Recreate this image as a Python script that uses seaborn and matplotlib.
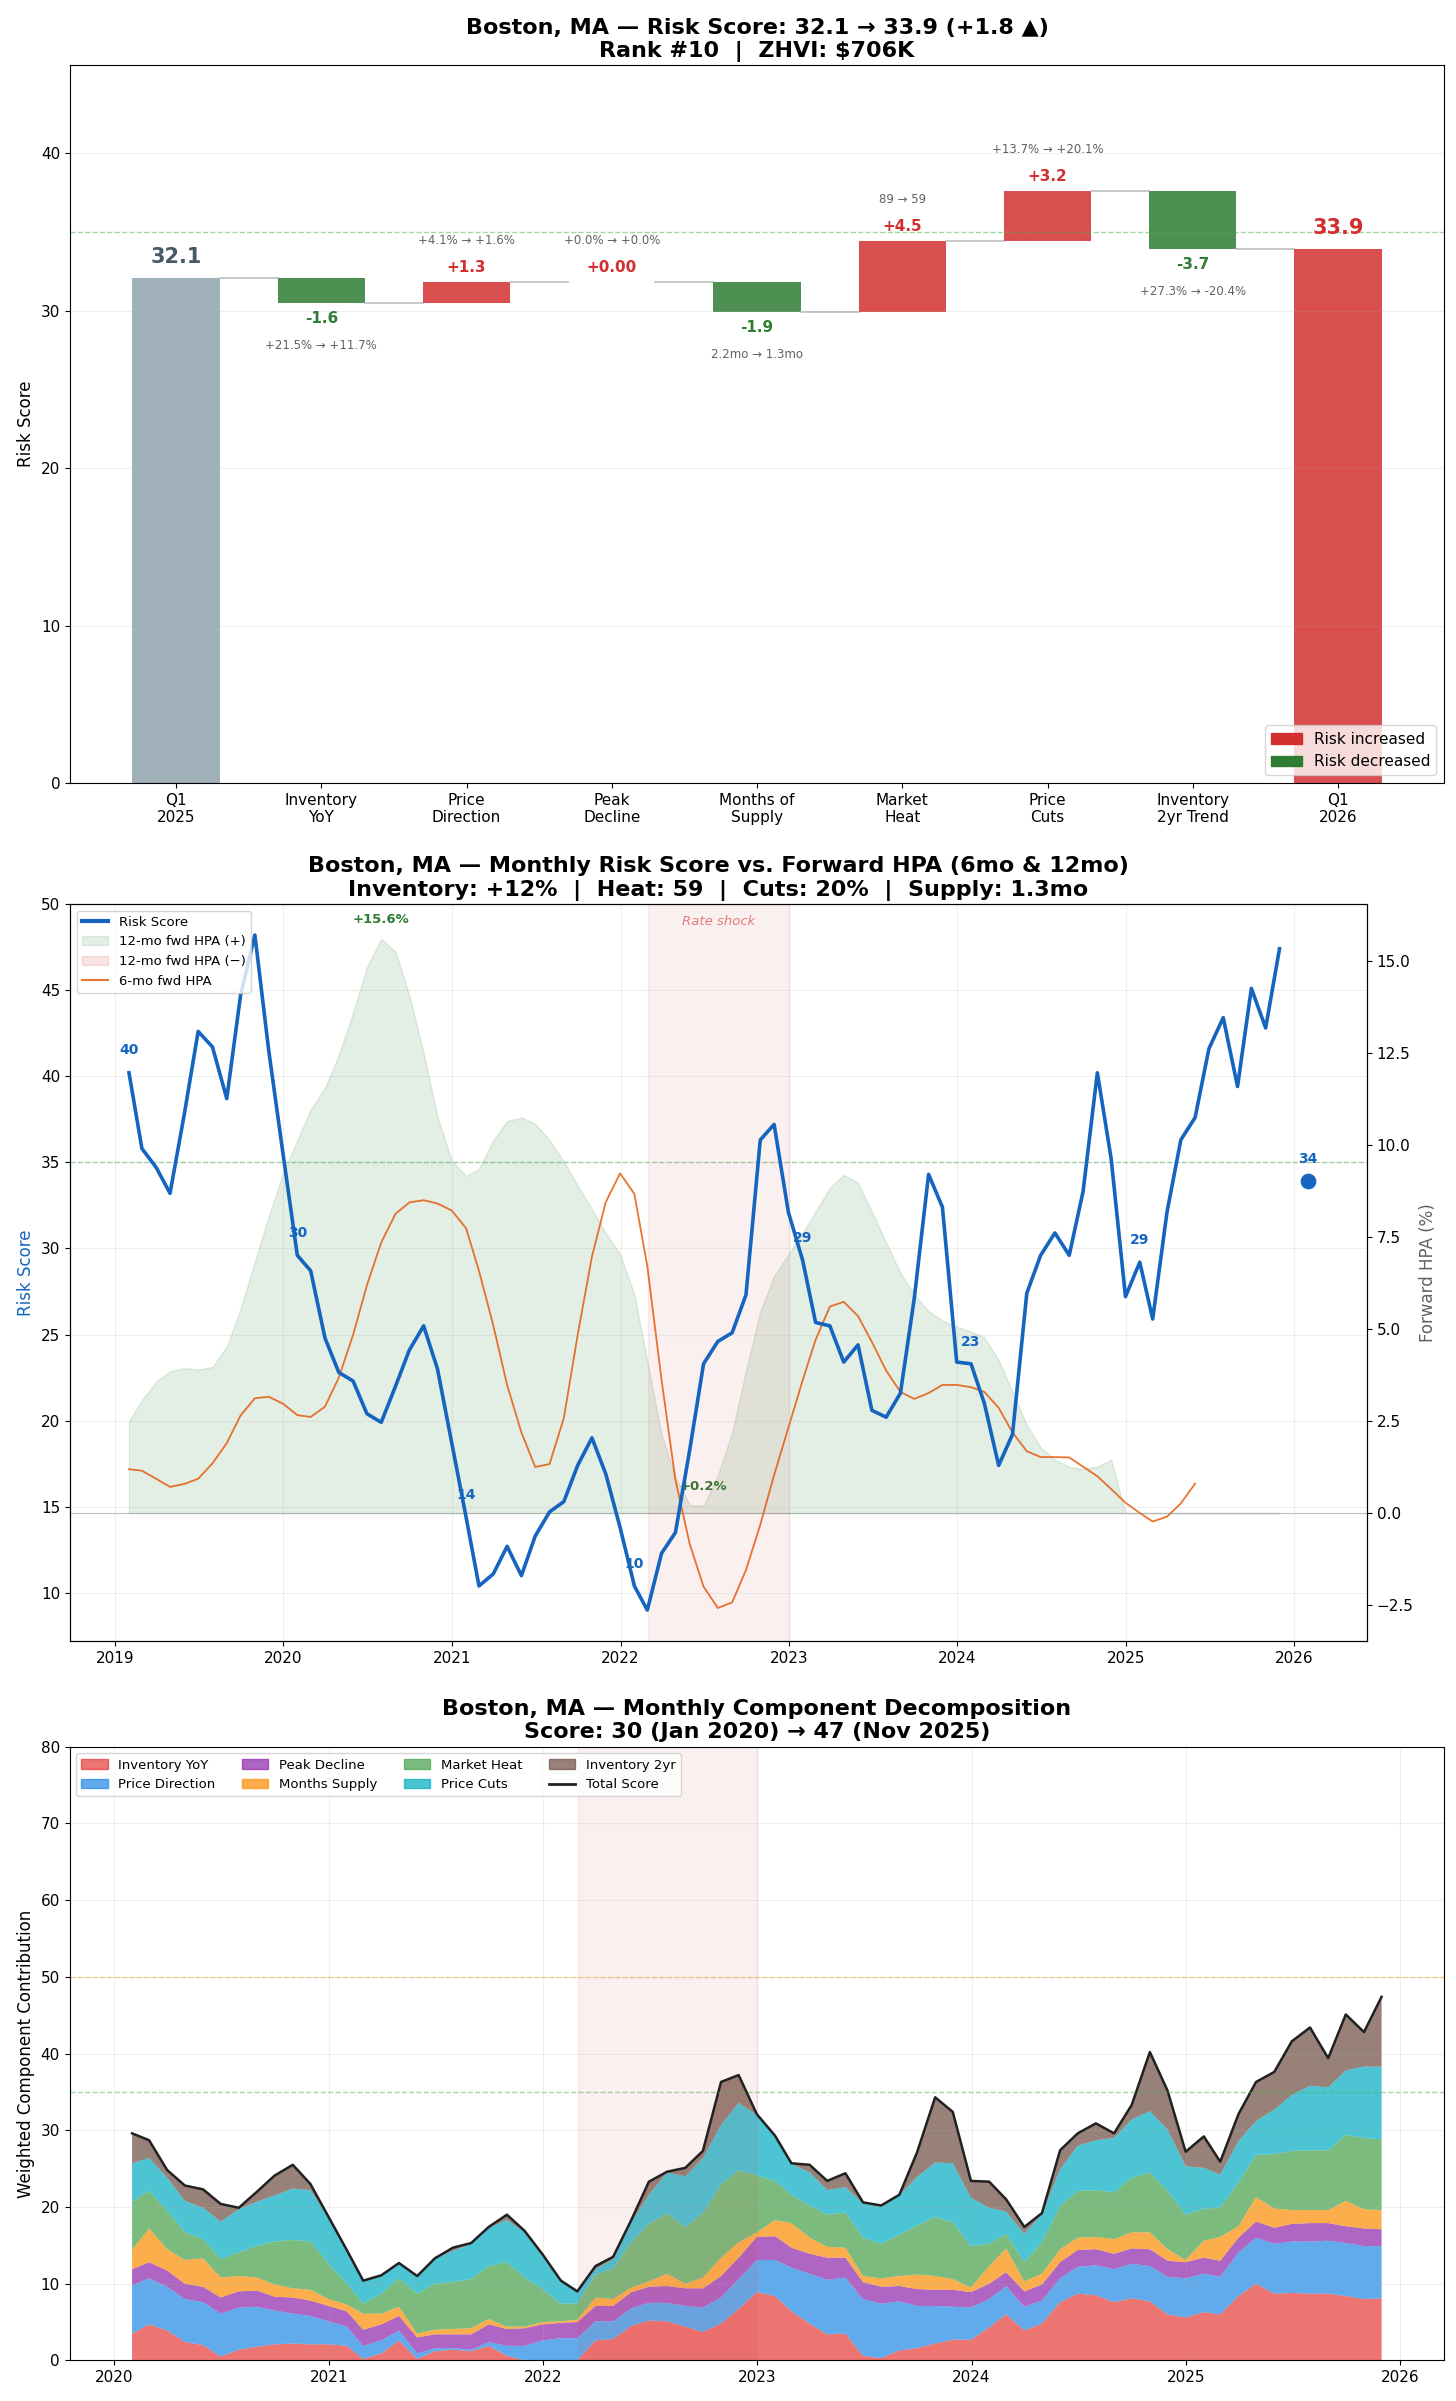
import numpy as np
import pandas as pd
import seaborn as sns
import matplotlib.pyplot as plt
import matplotlib.dates as mdates
from matplotlib.patches import Patch
from matplotlib.lines import Line2D

RED = '#D32F2F'
GREEN = '#2E7D32'
BLUE = '#1565C0'
ORANGE = '#E65100'

# ---------------- waterfall: Q1 2025 -> Q1 2026 ----------------
wf_labels = ["Q1\n2025", "Inventory\nYoY", "Price\nDirection", "Peak\nDecline",
             "Months of\nSupply", "Market\nHeat", "Price\nCuts", "Inventory\n2yr Trend", "Q1\n2026"]
score_start = 32.1
score_end = 33.9
wf_deltas = [-1.6, 1.3, 0.0, -1.9, 4.5, 3.2, -3.7]
wf_notes = ["+21.5% → +11.7%", "+4.1% → +1.6%", "+0.0% → +0.0%", "2.2mo → 1.3mo",
            "89 → 59", "+13.7% → +20.1%", "+27.3% → -20.4%"]

# ---------------- monthly risk score, Jan 2019 - Nov 2025 ----------------
risk_score = [40.2, 35.8, 34.7, 33.2, 37.8, 42.6, 41.7, 38.7, 44.7, 48.2, 41.5, 35.5,
              29.6, 28.7, 24.8, 22.8, 22.3, 20.4, 19.9, 22.0, 24.1, 25.5, 23.0, 18.7,
              14.4, 10.4, 11.1, 12.7, 11.0, 13.3, 14.7, 15.3, 17.4, 19.0, 16.9, 13.8,
              10.4, 9.0, 12.3, 13.5, 18.3, 23.3, 24.6, 25.1, 27.3, 36.3, 37.2, 32.1,
              29.3, 25.7, 25.5, 23.4, 24.4, 20.6, 20.2, 21.6, 27.1, 34.3, 32.4, 23.4,
              23.3, 21.0, 17.4, 19.2, 27.4, 29.6, 30.9, 29.6, 33.3, 40.2, 35.2, 27.2,
              29.2, 25.9, 32.1, 36.3, 37.6, 41.6, 43.4, 39.4, 45.1, 42.8, 47.4]
q1_2026_score = 33.9

# forward HPA (%), starting Jan 2019
hpa_12mo = [2.49, 3.07, 3.57, 3.85, 3.94, 3.90, 3.97, 4.52, 5.55, 6.84, 8.06, 9.23,
            10.13, 10.97, 11.55, 12.45, 13.6, 14.84, 15.6, 15.25, 14.06, 12.5, 10.77, 9.57,
            9.16, 9.35, 10.13, 10.65, 10.75, 10.58, 10.13, 9.55, 8.9, 8.26, 7.61, 7.03,
            5.94, 4.13, 2.13, 0.97, 0.22, 0.2, 1.03, 2.19, 3.87, 5.48, 6.45, 7.03,
            7.61, 8.19, 8.84, 9.19, 8.97, 8.19, 7.35, 6.52, 5.94, 5.48, 5.23, 5.06,
            4.93, 4.77, 4.15, 3.29, 2.39, 1.78, 1.45, 1.25, 1.2, 1.26, 1.45]
hpa_6mo = [1.19, 1.15, 0.93, 0.71, 0.79, 0.93, 1.35, 1.9, 2.65, 3.12, 3.16, 2.97,
           2.66, 2.61, 2.89, 3.68, 4.84, 6.19, 7.35, 8.13, 8.44, 8.5, 8.41, 8.22,
           7.74, 6.58, 5.1, 3.48, 2.19, 1.25, 1.33, 2.58, 4.84, 6.97, 8.45, 9.23,
           8.67, 6.71, 3.61, 0.9, -0.84, -2.0, -2.58, -2.43, -1.55, -0.32, 1.03, 2.32,
           3.61, 4.71, 5.61, 5.74, 5.35, 4.65, 3.87, 3.29, 3.1, 3.26, 3.48, 3.48,
           3.42, 3.29, 2.86, 2.19, 1.68, 1.52, 1.52, 1.51, 1.26, 1.0, 0.65, 0.28,
           0.0, -0.23, -0.1, 0.26, 0.8]

# ---------------- weighted components, Jan 2020 - Nov 2025 ----------------
inventory_yoy = [3.5, 4.7, 3.9, 2.4, 2.0, 0.5, 1.4, 1.8, 2.1, 2.2,
                 2.1, 2.1, 1.9, 0.2, 0.9, 2.6, 0.2, 1.2, 1.4, 1.2,
                 1.9, 0.6, 0.0, 0.0, 0.0, 0.0, 2.6, 2.8, 4.5, 5.2,
                 5.1, 4.4, 3.7, 4.8, 6.7, 8.9, 8.4, 6.4, 4.8, 3.4,
                 3.5, 0.6, 0.3, 1.3, 1.6, 2.2, 2.7, 2.7, 4.3, 6.0,
                 3.9, 4.8, 7.6, 8.7, 8.5, 7.6, 8.1, 7.7, 6.0, 5.6,
                 6.3, 6.0, 8.4, 10.0, 8.7, 8.8, 8.7, 8.7, 8.4, 8.0, 8.1]
price_direction = [6.3, 6.0, 5.7, 5.6, 5.6, 5.6, 5.5, 5.2, 4.4, 3.9,
                   3.7, 3.0, 2.5, 1.7, 1.7, 1.3, 0.7, 0.4, 0.2, 0.2,
                   0.5, 1.3, 1.9, 2.6, 2.9, 2.9, 2.5, 2.3, 2.3, 2.3,
                   2.4, 2.7, 3.2, 3.4, 3.9, 4.2, 4.7, 5.7, 6.5, 7.1,
                   7.3, 7.4, 7.1, 6.4, 5.5, 4.9, 4.3, 4.2, 3.7, 3.7,
                   3.1, 3.0, 3.1, 3.5, 3.9, 4.3, 4.5, 4.6, 4.9, 5.1,
                   5.0, 4.9, 5.7, 6.0, 6.5, 6.7, 6.8, 6.9, 6.9, 6.9, 6.8]
peak_decline = [2.1, 2.1, 2.1, 2.0, 2.0, 2.1, 2.1, 2.1, 1.8, 2.1,
                2.0, 2.0, 2.0, 2.1, 2.1, 1.9, 2.1, 1.8, 1.8, 2.0,
                2.3, 2.2, 2.3, 2.1, 2.0, 2.1, 2.0, 2.0, 2.1, 2.1,
                2.2, 2.3, 2.5, 2.8, 2.8, 3.0, 3.1, 2.6, 2.6, 2.9,
                2.6, 2.2, 2.2, 2.0, 2.2, 2.1, 2.2, 2.0, 2.0, 1.8,
                2.0, 2.1, 2.1, 2.2, 2.1, 2.0, 2.0, 2.2, 2.1, 2.1,
                2.1, 2.1, 1.9, 2.1, 2.1, 2.3, 2.4, 2.3, 2.2, 2.3, 2.2]
months_supply = [2.5, 4.4, 2.8, 3.1, 3.7, 2.6, 2.0, 1.7, 1.6, 1.2,
                 1.4, 0.9, 0.9, 2.1, 1.4, 1.2, 0.5, 0.6, 0.7, 0.8,
                 0.7, 0.3, 0.2, 0.3, 0.2, 0.3, 1.1, 0.9, 0.6, 0.7,
                 1.6, 0.6, 1.4, 2.4, 2.0, 0.6, 2.1, 3.2, 2.1, 1.4,
                 1.3, 0.8, 1.1, 1.3, 1.9, 1.8, 1.4, 0.6, 2.3, 3.1,
                 1.3, 1.4, 1.7, 1.6, 1.6, 1.9, 2.1, 2.2, 1.5, 0.3,
                 2.2, 3.1, 1.5, 3.2, 2.5, 1.8, 1.7, 1.7, 3.3, 2.5, 2.5]
market_heat = [6.3, 4.9, 5.0, 3.6, 2.5, 2.4, 3.1, 4.1, 5.6, 6.3,
               6.3, 4.6, 2.7, 1.3, 2.6, 3.7, 5.2, 6.0, 6.1, 6.4,
               6.9, 8.4, 6.4, 4.3, 2.3, 2.1, 3.0, 4.0, 5.9, 7.5,
               7.9, 7.4, 8.4, 9.5, 9.4, 7.4, 5.1, 3.7, 4.2, 4.2,
               4.6, 5.0, 4.5, 5.4, 6.4, 7.7, 7.4, 5.4, 2.9, 1.9,
               2.5, 4.1, 5.6, 6.1, 6.1, 6.1, 7.1, 7.8, 7.6, 5.9,
               4.2, 3.8, 5.7, 5.5, 7.1, 7.7, 7.8, 7.8, 8.6, 9.3, 9.2]
price_cuts = [5.0, 4.3, 4.3, 4.1, 4.1, 4.9, 5.6, 5.8, 6.0, 6.7,
              6.7, 6.0, 4.3, 2.9, 2.2, 1.9, 2.1, 3.2, 4.1, 4.6,
              5.0, 5.5, 5.9, 4.3, 2.9, 1.6, 0.7, 1.2, 2.6, 3.8,
              5.3, 6.6, 7.2, 7.8, 8.8, 7.9, 5.8, 4.0, 4.3, 3.2,
              3.3, 4.5, 4.8, 5.1, 6.3, 7.1, 7.7, 6.3, 4.7, 2.9,
              3.7, 3.7, 4.8, 5.9, 6.5, 7.1, 7.6, 8.0, 8.0, 6.3,
              5.3, 4.3, 5.4, 4.4, 5.8, 7.3, 8.4, 8.2, 8.4, 9.3, 9.5]
inventory_2yr = [3.9, 2.3, 1.0, 2.0, 2.4, 2.3, 0.2, 1.3, 2.6, 3.1,
                 0.8, 0.1, 0.1, 0.1, 0.2, 0.1, 0.2, 0.1, 0.4, 0.1,
                 0.1, 0.7, 0.2, 0.2, 0.1, 0.0, 0.4, 0.3, 0.3, 1.7,
                 0.1, 1.1, 0.9, 5.6, 3.6, 0.1, 0.1, 0.1, 1.0, 1.2,
                 1.8, 0.1, 0.2, 0.1, 3.2, 8.5, 6.7, 2.2, 3.4, 1.6,
                 0.9, 0.1, 2.5, 1.6, 2.2, 0.6, 1.9, 7.7, 5.1, 1.9,
                 4.1, 1.7, 3.5, 5.1, 4.9, 7.0, 7.6, 3.8, 7.3, 4.5, 9.1]
component_names = ["Inventory YoY", "Price Direction", "Peak Decline", "Months Supply",
                   "Market Heat", "Price Cuts", "Inventory 2yr"]
component_colors = ['#E53935', '#1E88E5', '#8E24AA', '#FB8C00', '#43A047', '#00ACC1', '#6D4C41']

plt.rcParams.update({
    'font.size': 11,
    'axes.labelsize': 12,
    'xtick.labelsize': 11,
    'ytick.labelsize': 11,
    'legend.fontsize': 9.5,
})
TITLE_SIZE = 16

fig = plt.figure(figsize=(14.56, 24.01), dpi=100)
ax1 = fig.add_axes([0.0481, 0.6739, 0.9437, 0.2990])
ax2 = fig.add_axes([0.0481, 0.3165, 0.8908, 0.3070])
ax3 = fig.add_axes([0.0478, 0.0169, 0.9440, 0.2556])

# ======================= Panel 1: waterfall =======================
ax1.bar(0, score_start, width=0.6, color='#78909C', alpha=0.7)
ax1.text(0, score_start + 0.7, f"{score_start:.1f}", ha='center', va='bottom',
         fontsize=15, fontweight='bold', color='#455A64')
level = score_start
for k, (d, note) in enumerate(zip(wf_deltas, wf_notes), start=1):
    new = level + d
    ax1.plot([k - 0.7, k - 0.3], [level, level], color='#BDBDBD', lw=1.2, zorder=1)
    col = RED if d >= 0 else GREEN
    ax1.bar(k, d, bottom=level, width=0.6, color=col, alpha=0.85)
    txt = f"{d:+.2f}" if d == 0 else f"{d:+.1f}"
    if d >= 0:
        ax1.text(k, new + 0.45, txt, ha='center', va='bottom', fontsize=11,
                 fontweight='bold', color=RED)
        ax1.text(k, new + 2.25, note, ha='center', va='bottom', fontsize=8.5, color='#616161')
    else:
        ax1.text(k, new - 0.5, txt, ha='center', va='top', fontsize=11,
                 fontweight='bold', color=GREEN)
        ax1.text(k, new - 2.3, note, ha='center', va='top', fontsize=8.5, color='#616161')
    level = new
n_last = len(wf_labels) - 1
ax1.plot([n_last - 0.7, n_last - 0.3], [level, level], color='#BDBDBD', lw=1.2, zorder=1)
end_col = RED if score_end >= score_start else GREEN
ax1.bar(n_last, score_end, width=0.6, color=end_col, alpha=0.85)
ax1.text(n_last, score_end + 0.7, f"{score_end:.1f}", ha='center', va='bottom',
         fontsize=15, fontweight='bold', color=end_col)
ax1.axhline(35, color='#4CAF50', ls='--', lw=1, alpha=0.5)
ax1.set_xticks(range(len(wf_labels)))
ax1.set_xticklabels(wf_labels)
ax1.set_ylim(0, 45.6)
ax1.set_ylabel("Risk Score")
ax1.grid(axis='y', alpha=0.2)
ax1.legend(handles=[Patch(color=RED, label='Risk increased'),
                    Patch(color=GREEN, label='Risk decreased')],
           loc='lower right', fontsize=11)
ax1.set_title(f"Boston, MA — Risk Score: {score_start} → {score_end} (+1.8 ▲)\n"
              "Rank #10  |  ZHVI: $706K", fontsize=TITLE_SIZE, fontweight='bold')

# ======================= Panel 2: risk vs forward HPA =======================
dates = pd.date_range("2019-01-31", periods=len(risk_score), freq="ME")
hpa12 = pd.Series(hpa_12mo + [np.nan] * (len(dates) - len(hpa_12mo))).fillna(0).values
ax2b = ax2.twinx()
ax2.set_zorder(ax2b.get_zorder() + 1)
ax2.patch.set_visible(False)

ax2b.fill_between(dates, 0, hpa12, where=hpa12 >= 0, interpolate=True,
                  color=GREEN, alpha=0.13)
ax2b.fill_between(dates, 0, hpa12, where=hpa12 < 0, interpolate=True,
                  color=RED, alpha=0.13)
sns.lineplot(x=dates[:len(hpa_6mo)], y=hpa_6mo, ax=ax2b, color=ORANGE, alpha=0.8, lw=1.3)
ax2b.axhline(0, color='grey', lw=0.8, alpha=0.5)
ax2b.set_ylim(-3.48, 16.55)
ax2b.set_ylabel("Forward HPA (%)", color='#616161')

k_max = int(np.argmax(hpa_12mo))
k_min = int(np.argmin(hpa_12mo))
for kk in (k_max, k_min):
    ax2b.annotate(f"{hpa_12mo[kk]:+.1f}%", (dates[kk], hpa_12mo[kk]), xytext=(0, 9),
                  textcoords='offset points', ha='center', va='bottom',
                  fontsize=9.5, fontweight='bold', color=GREEN)

shock_start, shock_end = pd.Timestamp("2022-03-01"), pd.Timestamp("2023-01-01")
ax2.axvspan(shock_start, shock_end, color=RED, alpha=0.07)
ax2.text(shock_start + (shock_end - shock_start) / 2, 0.985, "Rate shock",
         transform=ax2.get_xaxis_transform(), ha='center', va='top',
         fontsize=9.5, style='italic', color=RED, alpha=0.6)
ax2.axhline(35, color='#4CAF50', ls='--', lw=1, alpha=0.5)
sns.lineplot(x=dates, y=risk_score, ax=ax2, color=BLUE, lw=2.6)
q1_date = pd.Timestamp("2026-01-31")
sns.scatterplot(x=[q1_date], y=[q1_2026_score], ax=ax2, color=BLUE, s=110, zorder=5, edgecolor=BLUE)
for kk in range(0, len(dates), 12):
    ax2.annotate(f"{risk_score[kk]:.0f}", (dates[kk], risk_score[kk]), xytext=(0, 11),
                 textcoords='offset points', ha='center', va='bottom',
                 fontsize=10, fontweight='bold', color=BLUE)
ax2.annotate(f"{q1_2026_score:.0f}", (q1_date, q1_2026_score), xytext=(0, 11),
             textcoords='offset points', ha='center', va='bottom',
             fontsize=10, fontweight='bold', color=BLUE)
ax2.set_ylim(7.2, 50)
ax2.set_xlabel("")
ax2b.set_xlabel("")
ax2.set_ylabel("Risk Score", color=BLUE)
ax2.grid(alpha=0.2)
ax2.xaxis.set_major_locator(mdates.YearLocator())
ax2.xaxis.set_major_formatter(mdates.DateFormatter('%Y'))
ax2.legend(handles=[Line2D([], [], color=BLUE, lw=3, label='Risk Score'),
                    Patch(facecolor=GREEN, edgecolor=GREEN, alpha=0.13, label='12-mo fwd HPA (+)'),
                    Patch(facecolor=RED, edgecolor=RED, alpha=0.13, label='12-mo fwd HPA (−)'),
                    Line2D([], [], color=ORANGE, alpha=0.8, lw=1.5, label='6-mo fwd HPA')],
           loc='upper left')
ax2.set_title("Boston, MA — Monthly Risk Score vs. Forward HPA (6mo & 12mo)\n"
              "Inventory: +12%  |  Heat: 59  |  Cuts: 20%  |  Supply: 1.3mo",
              fontsize=TITLE_SIZE, fontweight='bold')

# ======================= Panel 3: component decomposition =======================
dates3 = pd.date_range("2020-01-31", periods=len(inventory_yoy), freq="ME")
components = [inventory_yoy, price_direction, peak_decline, months_supply,
              market_heat, price_cuts, inventory_2yr]
total = np.sum(np.array(components), axis=0)
ax3.stackplot(dates3, *components, colors=component_colors, alpha=0.7, linewidth=0)
sns.lineplot(x=dates3, y=total, ax=ax3, color='#212121', lw=1.8)
ax3.axvspan(shock_start, shock_end, color=RED, alpha=0.07)
ax3.axhline(35, color='#4CAF50', ls='--', lw=1, alpha=0.5)
ax3.axhline(50, color='#FB8C00', ls='--', lw=1, alpha=0.4)
ax3.set_ylim(0, 80)
ax3.set_xlabel("")
ax3.set_ylabel("Weighted Component Contribution")
ax3.grid(alpha=0.2)
ax3.xaxis.set_major_locator(mdates.YearLocator())
ax3.xaxis.set_major_formatter(mdates.DateFormatter('%Y'))
handles3 = [Patch(facecolor=c, edgecolor=c, alpha=0.7, label=n)
            for n, c in zip(component_names, component_colors)]
handles3.append(Line2D([], [], color='#212121', lw=2, label='Total Score'))
ax3.legend(handles=handles3, loc='upper left', ncol=4)
ax3.set_title(f"Boston, MA — Monthly Component Decomposition\n"
              f"Score: {total[0]:.0f} (Jan 2020) → {total[-1]:.0f} (Nov 2025)",
              fontsize=TITLE_SIZE, fontweight='bold')

fig.savefig("out.png", dpi=100)
